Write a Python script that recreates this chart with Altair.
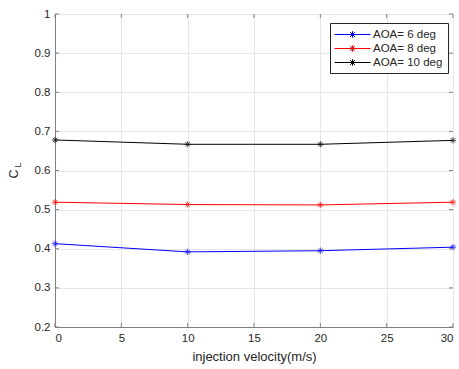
import altair as alt
import pandas as pd

velocity = [0, 10, 20, 30]
cl_aoa6 = [0.413, 0.392, 0.395, 0.404]
cl_aoa8 = [0.519, 0.513, 0.512, 0.519]
cl_aoa10 = [0.678, 0.667, 0.667, 0.677]
series_names = ["AOA= 6 deg", "AOA= 8 deg", "AOA= 10 deg"]
series_colors = ["#0000ff", "#ff0000", "#000000"]
x_ticks = [0, 5, 10, 15, 20, 25, 30]
y_ticks = [0.2, 0.3, 0.4, 0.5, 0.6, 0.7, 0.8, 0.9, 1.0]

rows = []
for name, vals in zip(series_names, [cl_aoa6, cl_aoa8, cl_aoa10]):
    for v, c in zip(velocity, vals):
        rows.append({"v": v, "cl": c, "series": name})
df = pd.DataFrame(rows)

W, H = 398, 313
FONT = "Liberation Sans"
TXT = "#262626"
AX = "#808080"

star = "M-1,0H1M0,-1V1M-0.7,-0.7L0.7,0.7M-0.7,0.7L0.7,-0.7"
legend_sym = "M-3,0H3M0,-0.55V0.55M-0.4,-0.4L0.4,0.4M-0.4,0.4L0.4,-0.4"

xs = alt.Scale(domain=[0, 30], nice=False, zero=False)
ys = alt.Scale(domain=[0.2, 1.0], nice=False, zero=False)
cs = alt.Scale(domain=series_names, range=series_colors)

xaxis = alt.Axis(values=x_ticks, title="injection velocity(m/s)", grid=True,
                 gridColor="#e6e6e6", domainColor=AX, ticks=False, labelOverlap=False,
                 labelFont=FONT, labelFontSize=11.5, labelColor=TXT, labelPadding=5,
                 titleFont=FONT, titleFontSize=13, titleFontWeight="normal",
                 titleColor=TXT, titlePadding=7)
yaxis = alt.Axis(values=y_ticks, title=None, format=".1~f", grid=True, labelOverlap=False,
                 gridColor="#e6e6e6", domainColor=AX, ticks=False,
                 labelFont=FONT, labelFontSize=11.5, labelColor=TXT, labelPadding=5)

lines = alt.Chart(df).mark_line(strokeWidth=1).encode(
    x=alt.X("v:Q", scale=xs, axis=xaxis),
    y=alt.Y("cl:Q", scale=ys, axis=yaxis),
    stroke=alt.Stroke("series:N", scale=cs, sort=series_names,
                      legend=alt.Legend(title=None, orient="none", legendX=275, legendY=9,
                                        symbolType=legend_sym, symbolSize=144,
                                        symbolStrokeWidth=1, strokeColor=TXT,
                                        fillColor="white", padding=5,
                                        symbolOffset=11, labelOffset=14,
                                        labelFont=FONT, labelFontSize=11.5, labelColor=TXT,
                                        rowPadding=2)),
)
points = alt.Chart(df).mark_point(shape=star, size=40, filled=False, strokeWidth=1).encode(
    x=alt.X("v:Q", scale=xs, axis=xaxis),
    y=alt.Y("cl:Q", scale=ys, axis=yaxis),
    stroke=alt.Stroke("series:N", scale=cs, legend=None),
)

xt = pd.DataFrame({"t": x_ticks})
yt = pd.DataFrame({"t": y_ticks})
tick_style = dict(color=AX, strokeWidth=1)
xb = alt.Chart(xt).mark_rule(**tick_style).encode(x=alt.X("t:Q", scale=xs, axis=xaxis), y=alt.value(H), y2=alt.value(H - 4))
xtp = alt.Chart(xt).mark_rule(**tick_style).encode(x=alt.X("t:Q", scale=xs, axis=xaxis), y=alt.value(0), y2=alt.value(4))
yl = alt.Chart(yt).mark_rule(**tick_style).encode(y=alt.Y("t:Q", scale=ys, axis=yaxis), x=alt.value(0), x2=alt.value(4))
yr = alt.Chart(yt).mark_rule(**tick_style).encode(y=alt.Y("t:Q", scale=ys, axis=yaxis), x=alt.value(W), x2=alt.value(W - 4))

c_lab = alt.Chart(pd.DataFrame({"t": ["C"]})).mark_text(
    font=FONT, fontSize=12.5, color=TXT, angle=270, baseline="middle", align="center"
).encode(text="t:N", x=alt.value(-41), y=alt.value(160))
l_lab = alt.Chart(pd.DataFrame({"t": ["L"]})).mark_text(
    font=FONT, fontSize=9, color=TXT, angle=270, baseline="middle", align="center"
).encode(text="t:N", x=alt.value(-37), y=alt.value(151))

chart = alt.layer(lines, points, xb, xtp, yl, yr, c_lab, l_lab).properties(
    width=W, height=H,
    padding={"left": 55, "top": 14, "right": 6, "bottom": 42},
    autosize=alt.AutoSizeParams(type="none"),
).configure_view(stroke=AX, strokeWidth=1).configure(background="white")

chart.save("out.html", embed_options={"renderer": "svg", "actions": False})
